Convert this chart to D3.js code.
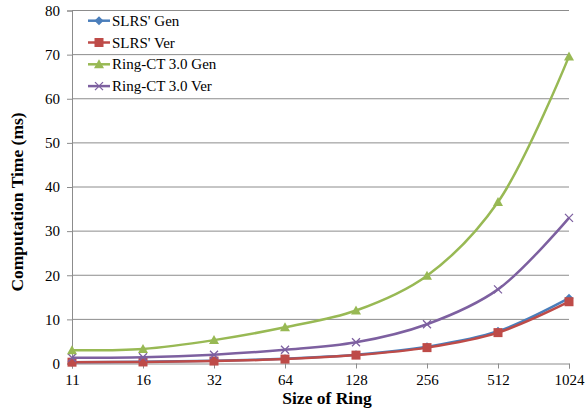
<!DOCTYPE html>
<html><head><meta charset="utf-8">
<script src="https://cdn.jsdelivr.net/npm/d3@7"></script>
<style>body{margin:0;background:#fff}svg{display:block}</style>
</head><body>
<svg id="c" width="585" height="412"></svg>
<script>
const categories = ["11","16","32","64","128","256","512","1024"];
const slrsGen = [0.3, 0.4, 0.6, 1.1, 2.0, 3.8, 7.3, 14.8];
const slrsVer = [0.3, 0.35, 0.55, 1.0, 1.9, 3.6, 7.0, 14.0];
const ringGen = [3.0, 3.3, 5.3, 8.2, 12.0, 19.9, 36.6, 69.6];
const ringVer = [1.3, 1.4, 2.0, 3.1, 4.8, 8.9, 16.8, 33.0];
const yTicks = [0,10,20,30,40,50,60,70,80];
const seriesNames = ["SLRS' Gen","SLRS' Ver","Ring-CT 3.0 Gen","Ring-CT 3.0 Ver"];
const seriesColors = ["#4A7EBB","#BE4B48","#98B954","#7D60A0"];
const seriesMarkers = ["diamond","square","triangle","cross"];
const seriesData = [slrsGen, slrsVer, ringGen, ringVer];

const svg = d3.select("#c");
const L = 72, R = 569, T = 10.5, B = 363.5;
const x = d3.scalePoint().domain(categories).range([L, R]).padding(0);
const y = d3.scaleLinear().domain([0, 80]).range([B, T]);
const font = "Liberation Serif";

// gridlines
svg.append("g").selectAll("line").data(yTicks.filter(d => d > 0)).join("line")
  .attr("x1", L).attr("x2", R).attr("y1", d => y(d)).attr("y2", d => y(d))
  .attr("stroke", "#8c8c8c").attr("stroke-width", 1);

// y axis
const ya = svg.append("g").attr("transform", `translate(${L},0)`)
  .call(d3.axisLeft(y).tickValues(yTicks).tickSize(5).tickPadding(7).tickFormat(d3.format("d")));
ya.attr("font-family", font);
ya.select(".domain").attr("stroke", "#8c8c8c");
ya.selectAll(".tick line").attr("stroke", "#8c8c8c");
ya.selectAll("text").attr("font-family", font).attr("font-size", 15).attr("fill", "#000");

// x axis
const xa = svg.append("g").attr("transform", `translate(0,${B})`)
  .call(d3.axisBottom(x).tickSize(5).tickPadding(5.5));
xa.attr("font-family", font);
xa.select(".domain").attr("stroke", "#8c8c8c");
xa.selectAll(".tick line").attr("stroke", "#8c8c8c");
xa.selectAll("text").attr("font-family", font).attr("font-size", 15).attr("fill", "#000");

// axis titles
svg.append("text").attr("x", 327).attr("y", 404).attr("text-anchor", "middle")
  .attr("font-family", font).attr("font-weight", "bold").attr("font-size", 17.5).text("Size of Ring");
svg.append("text").attr("transform", "translate(23,202) rotate(-90)").attr("text-anchor", "middle")
  .attr("font-family", font).attr("font-weight", "bold").attr("font-size", 17.5).text("Computation Time (ms)");

function marker(g, type, color, cx, cy) {
  if (type === "diamond") {
    g.append("path").attr("d", `M${cx},${cy-4.5}L${cx+4.5},${cy}L${cx},${cy+4.5}L${cx-4.5},${cy}Z`).attr("fill", color);
  } else if (type === "square") {
    g.append("rect").attr("x", cx-4.5).attr("y", cy-4.5).attr("width", 9).attr("height", 9).attr("fill", color);
  } else if (type === "triangle") {
    g.append("path").attr("d", `M${cx},${cy-5}L${cx+5},${cy+4}L${cx-5},${cy+4}Z`).attr("fill", color);
  } else {
    g.append("path").attr("d", `M${cx-4},${cy-4}L${cx+4},${cy+4}M${cx-4},${cy+4}L${cx+4},${cy-4}`)
      .attr("stroke", color).attr("stroke-width", 1.3);
  }
}

const line = d3.line().x((d, i) => x(categories[i])).y(d => y(d)).curve(d3.curveCatmullRom.alpha(0.5));
[0,1,3,2].forEach(s => {
  const g = svg.append("g");
  g.append("path").datum(seriesData[s]).attr("d", line).attr("fill", "none")
    .attr("stroke", seriesColors[s]).attr("stroke-width", 2.5);
  seriesData[s].forEach((v, i) => marker(g, seriesMarkers[s], seriesColors[s], x(categories[i]), y(v)));
});

// legend
const lg = svg.append("g");
seriesNames.forEach((n, i) => {
  const cy = 20.7 + i * 21.8;
  lg.append("line").attr("x1", 88).attr("x2", 110).attr("y1", cy).attr("y2", cy)
    .attr("stroke", seriesColors[i]).attr("stroke-width", 2.5);
  marker(lg, seriesMarkers[i], seriesColors[i], 99, cy);
  lg.append("text").attr("x", 112).attr("y", cy + 5).attr("font-family", font).attr("font-size", 15).text(n);
});
</script>
</body></html>
